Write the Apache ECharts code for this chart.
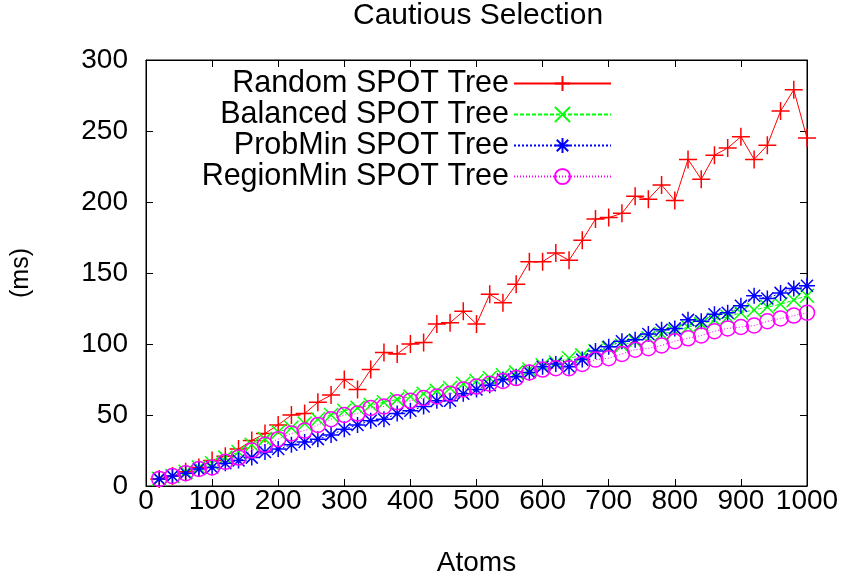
<!DOCTYPE html>
<html>
<head>
<meta charset="utf-8">
<script src="https://cdn.jsdelivr.net/npm/echarts@6/dist/echarts.min.js"></script>
<style>html,body{margin:0;padding:0;background:#fff;}#c{width:849px;height:582px;}</style>
</head>
<body>
<div id="c"></div>
<script>
const atoms = [20,40,60,80,100,120,140,160,180,200,220,240,260,280,300,320,340,360,380,400,420,440,460,480,500,520,540,560,580,600,620,640,660,680,700,720,740,760,780,800,820,840,860,880,900,920,940,960,980,1000];
const randomTree = [5,7,10,13,18,21,26,32,37,43,50,51,59,64,75,68,82,94,93,100,101,114,115,123,114,135,129,142,158,158,164,159,173,188,189,192,204,202,212,201,230,216,233,238,246,230,240,264,279,245];
const balancedTree = [5,7,10,13,16,20,24,29,33,38,41,44,47,50,53,55,57,59,61,63,65,67,69,72,74,76,78,80,82,85,87,90,92,95,97,99,102,104,107,109,112,114,117,119,122,124,126,128,131,134];
const probMinTree = [5,7,9,12,13,16,18,20,24,26,29,31,33,36,40,43,46,47,51,53,56,60,60,65,68,71,75,77,80,84,86,84,89,95,98,102,103,107,110,111,117,116,121,122,127,134,132,136,139,141];
const regionMinTree = [5,7,9,12,13,17,20,25,29,33,37,39,43,47,50,51,55,56,59,60,62,63,65,68,70,72,74,76,80,82,83,83,86,89,90,93,96,97,99,102,104,106,109,111,112,113,116,118,120,122];
const seriesNames = ['Random SPOT Tree','Balanced SPOT Tree','ProbMin SPOT Tree','RegionMin SPOT Tree'];
const xTicks = {min:0, max:1000, interval:100};
const yTicks = {min:0, max:300, interval:50};

const FONT = '"Liberation Sans", Arial, Helvetica, sans-serif';
const plus = 'path://M0,-1L0,1M-1,0L1,0';
const cross = 'path://M-1,-1L1,1M-1,1L1,-1';
const star = 'path://M0,-1L0,1M-1,0L1,0M-0.75,-0.75L0.75,0.75M-0.75,0.75L0.75,-0.75';
const ring = 'path://M1,0A1,1,0,1,1,-1,0A1,1,0,1,1,1,0Z';

function mk(vals){ return atoms.map((a,i)=>[a, vals[i]]); }

function ser(name, vals, color, dash, symbol, size){
  return {
    name: name, type: 'line', data: mk(vals),
    symbol: symbol, symbolSize: size, showAllSymbol: true,
    lineStyle: {color: color, width: 1, type: dash},
    itemStyle: {color: 'rgba(0,0,0,0)', borderColor: color, borderWidth: 1.5},
    emphasis: {disabled: true}, animation: false
  };
}

const chart = echarts.init(document.getElementById('c'), null, {renderer: 'canvas'});
const axisCommon = {
  axisLine: {show: true, onZero: false, lineStyle: {color: '#000', width: 1}},
  axisTick: {show: true, inside: true, length: 7, lineStyle: {color: '#000', width: 1}},
  splitLine: {show: false}
};
chart.setOption({
  backgroundColor: '#fff',
  animation: false,
  title: {text: 'Cautious Selection', left: 353, top: 1, padding: 0,
    textStyle: {fontFamily: FONT, fontSize: 30, fontWeight: 'normal', color: '#000'}},
  grid: {left: 146, right: 42, top: 60, bottom: 96, containLabel: false,
    show: true, borderColor: '#000', borderWidth: 1, backgroundColor: 'transparent'},
  legend: {
    orient: 'vertical', align: 'right', right: 237, top: 68, padding: 0,
    itemWidth: 97, itemHeight: 19, itemGap: 0,
    textStyle: {fontFamily: FONT, fontSize: 30.5, lineHeight: 29, color: '#000'},
    data: seriesNames, selectedMode: false
  },
  xAxis: [
    Object.assign({type: 'value', min: xTicks.min, max: xTicks.max, interval: xTicks.interval, position: 'bottom',
      name: 'Atoms', nameLocation: 'middle', nameGap: 63,
      nameTextStyle: {fontFamily: FONT, fontSize: 28, color: '#000'},
      axisLabel: {fontFamily: FONT, fontSize: 28, color: '#000', margin: 1, formatter: v => String(v)}}, axisCommon),
    Object.assign({type: 'value', min: xTicks.min, max: xTicks.max, interval: xTicks.interval, position: 'top',
      axisLabel: {show: false}}, axisCommon)
  ],
  yAxis: [
    Object.assign({type: 'value', min: yTicks.min, max: yTicks.max, interval: yTicks.interval, position: 'left',
      name: '(ms)', nameLocation: 'middle', nameGap: 112, nameRotate: 90,
      nameTextStyle: {fontFamily: FONT, fontSize: 25, color: '#000'},
      axisLabel: {fontFamily: FONT, fontSize: 28, color: '#000', margin: 18, formatter: v => String(v)}}, axisCommon),
    Object.assign({type: 'value', min: yTicks.min, max: yTicks.max, interval: yTicks.interval, position: 'right',
      axisLabel: {show: false}}, axisCommon)
  ],
  series: [
    ser(seriesNames[0], randomTree, '#ff0000', 'solid', plus, 18),
    ser(seriesNames[1], balancedTree, '#00ff00', [4,2], cross, 14),
    ser(seriesNames[2], probMinTree, '#0000ff', [2,2], star, 16),
    ser(seriesNames[3], regionMinTree, '#ff00ff', [1,2], ring, 15)
  ]
});
</script>
</body>
</html>
